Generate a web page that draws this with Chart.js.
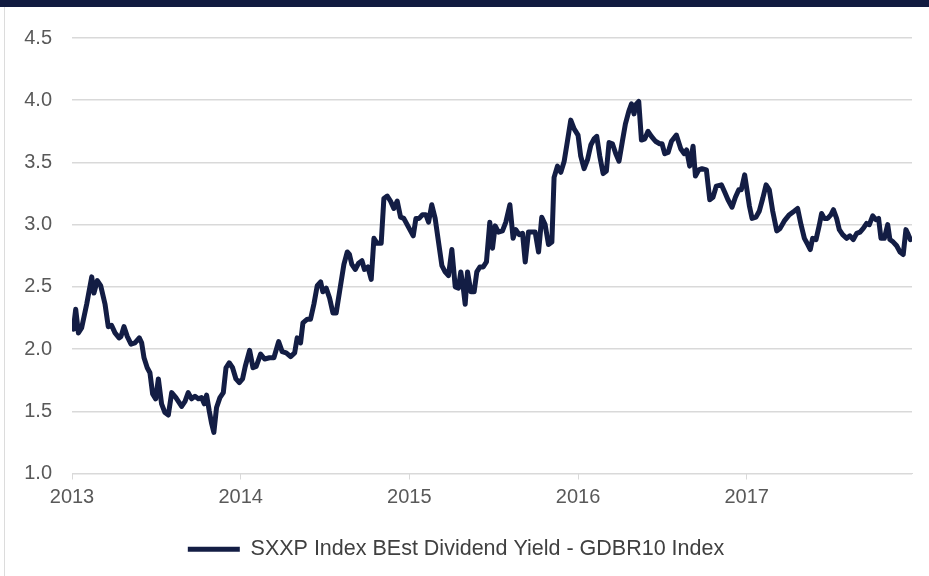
<!DOCTYPE html>
<html>
<head>
<meta charset="utf-8">
<script src="https://cdn.jsdelivr.net/npm/chart.js@4.4.1/dist/chart.umd.min.js"></script>
<style>
  html, body { margin: 0; padding: 0; background: #fff; }
  #wrap { position: relative; width: 929px; height: 576px; overflow: hidden; }
  #topbar { position: absolute; left: 0; top: 0; width: 929px; height: 7px; background: #111b40; }
  #leftline { position: absolute; left: 4px; top: 7px; width: 1px; height: 569px; background: #dcdcdc; }
  canvas { position: absolute; left: 0; top: 0; }
</style>
</head>
<body>
<div id="wrap">
  <canvas id="chart" width="929" height="576"></canvas>
  <div id="topbar"></div>
  <div id="leftline"></div>
</div>
<script>
// decimal years (weekly-ish readings) and the spread values
const dates = [
  2013.008, 2013.022, 2013.038, 2013.057, 2013.087, 2013.117, 2013.130, 2013.150, 2013.170, 2013.196,
  2013.215, 2013.235, 2013.255, 2013.279, 2013.290, 2013.308, 2013.328, 2013.350, 2013.373, 2013.399,
  2013.413, 2013.427, 2013.446, 2013.462, 2013.478, 2013.496, 2013.512, 2013.531, 2013.551, 2013.571,
  2013.591, 2013.616, 2013.650, 2013.670, 2013.689, 2013.709, 2013.729, 2013.749, 2013.768, 2013.784,
  2013.798, 2013.814, 2013.828, 2013.841, 2013.857, 2013.877, 2013.897, 2013.913, 2013.932, 2013.952,
  2013.972, 2013.992, 2014.011,
  2014.027, 2014.053, 2014.073, 2014.092, 2014.118, 2014.142, 2014.171, 2014.197, 2014.225, 2014.246,
  2014.270, 2014.296, 2014.320, 2014.335, 2014.355, 2014.369, 2014.395, 2014.414, 2014.434, 2014.454,
  2014.474, 2014.487, 2014.507, 2014.527, 2014.547, 2014.566, 2014.586, 2014.612, 2014.632, 2014.645,
  2014.659, 2014.679, 2014.699, 2014.719, 2014.734, 2014.754, 2014.774, 2014.790, 2014.809, 2014.833,
  2014.849, 2014.869, 2014.888, 2014.908, 2014.928, 2014.948, 2014.967,
  2014.999, 2015.023, 2015.039, 2015.058, 2015.078, 2015.098, 2015.114, 2015.133, 2015.153, 2015.173,
  2015.193, 2015.212, 2015.232, 2015.252, 2015.272, 2015.291, 2015.305, 2015.319, 2015.331, 2015.345,
  2015.365, 2015.384, 2015.400, 2015.418, 2015.438, 2015.457, 2015.477, 2015.493, 2015.509, 2015.528,
  2015.552, 2015.572, 2015.596, 2015.615, 2015.631, 2015.651, 2015.671, 2015.687, 2015.706, 2015.726,
  2015.746, 2015.766, 2015.785, 2015.805, 2015.825, 2015.845, 2015.858, 2015.878, 2015.898, 2015.918,
  2015.937, 2015.957, 2015.977,
  2016.000, 2016.016, 2016.036, 2016.056, 2016.076, 2016.095, 2016.111, 2016.129, 2016.149, 2016.168,
  2016.184, 2016.204, 2016.224, 2016.243, 2016.263, 2016.281, 2016.301, 2016.317, 2016.332, 2016.346,
  2016.360, 2016.376, 2016.396, 2016.415, 2016.435, 2016.459, 2016.484, 2016.498, 2016.514, 2016.534,
  2016.554, 2016.583, 2016.609, 2016.629, 2016.644, 2016.662, 2016.682, 2016.696, 2016.716, 2016.735,
  2016.761, 2016.781, 2016.800, 2016.820, 2016.850, 2016.870, 2016.889, 2016.913, 2016.933, 2016.953,
  2016.968, 2016.988,
  2017.016, 2017.032, 2017.055, 2017.075, 2017.095, 2017.115, 2017.134, 2017.154, 2017.178, 2017.198,
  2017.223, 2017.253, 2017.283, 2017.302, 2017.322, 2017.342, 2017.362, 2017.377, 2017.391, 2017.411,
  2017.431, 2017.444, 2017.460, 2017.480, 2017.500, 2017.514, 2017.533, 2017.549, 2017.569, 2017.593,
  2017.612, 2017.632, 2017.652, 2017.672, 2017.691, 2017.711, 2017.727, 2017.747, 2017.766, 2017.782,
  2017.796, 2017.816, 2017.836, 2017.849, 2017.869, 2017.889, 2017.909, 2017.928, 2017.944, 2017.958,
  2017.970
];
const spread = [
  2.16, 2.32, 2.13, 2.17, 2.36, 2.58, 2.45, 2.55, 2.51, 2.36,
  2.18, 2.19, 2.13, 2.09, 2.10, 2.18, 2.10, 2.04, 2.05, 2.09,
  2.05, 1.93, 1.85, 1.81, 1.64, 1.60, 1.76, 1.56, 1.49, 1.47,
  1.65, 1.61, 1.54, 1.58, 1.65, 1.60, 1.62, 1.60, 1.61, 1.56,
  1.63, 1.50, 1.40, 1.33, 1.53, 1.61, 1.65, 1.85, 1.89, 1.85,
  1.76, 1.73, 1.76,
  1.86, 1.99, 1.85, 1.86, 1.96, 1.92, 1.93, 1.93, 2.06, 1.98,
  1.97, 1.94, 1.97, 2.09, 2.05, 2.21, 2.24, 2.24, 2.36, 2.51,
  2.54, 2.46, 2.49, 2.41, 2.29, 2.29, 2.46, 2.68, 2.78, 2.76,
  2.68, 2.64, 2.69, 2.71, 2.64, 2.66, 2.56, 2.89, 2.85, 2.85,
  3.21, 3.23, 3.19, 3.13, 3.19, 3.06, 3.05,
  2.97, 2.91, 3.05, 3.05, 3.08, 3.08, 3.02, 3.16, 3.05, 2.86,
  2.67, 2.62, 2.59, 2.80, 2.50, 2.49, 2.62, 2.50, 2.36, 2.62,
  2.46, 2.46, 2.62, 2.66, 2.66, 2.70, 3.02, 2.81, 2.99, 2.94,
  2.95, 3.02, 3.16, 2.89, 2.96, 2.92, 2.93, 2.70, 2.94, 2.94,
  2.94, 2.78, 3.06, 3.00, 2.84, 2.86, 3.38, 3.47, 3.42, 3.51,
  3.67, 3.84, 3.77,
  3.72, 3.55, 3.45, 3.52, 3.64, 3.69, 3.71, 3.55, 3.41, 3.43,
  3.66, 3.65, 3.57, 3.51, 3.67, 3.81, 3.91, 3.97, 3.89, 3.97,
  3.99, 3.68, 3.69, 3.75, 3.71, 3.67, 3.65, 3.65, 3.57, 3.58,
  3.67, 3.72, 3.61, 3.57, 3.60, 3.47, 3.63, 3.39, 3.44, 3.45,
  3.44, 3.20, 3.22, 3.31, 3.32, 3.26, 3.20, 3.14, 3.22, 3.28,
  3.28, 3.40,
  3.15, 3.05, 3.06, 3.11, 3.21, 3.32, 3.28, 3.11, 2.95, 2.97,
  3.03, 3.08, 3.11, 3.13, 3.00, 2.89, 2.84, 2.80, 2.89, 2.88,
  3.00, 3.09, 3.05, 3.05, 3.08, 3.12, 3.05, 2.96, 2.92, 2.89,
  2.91, 2.88, 2.93, 2.94, 2.97, 3.01, 3.00, 3.07, 3.04, 3.05,
  2.89, 2.89, 3.00, 2.88, 2.86, 2.83, 2.78, 2.76, 2.96, 2.92,
  2.88
];
const seriesName = 'SXXP Index BEst Dividend Yield - GDBR10 Index';
const yTicks = [1.0, 1.5, 2.0, 2.5, 3.0, 3.5, 4.0, 4.5];
const xStart = 2013;
const xEnd = 2017.98;

const navy = '#131d44';
const gridGray = '#d9d9d9';
const labelGray = '#595959';
const fontFam = "'Liberation Sans', Arial, sans-serif";

const points = dates.map((d, i) => ({ x: d, y: spread[i] }));

new Chart(document.getElementById('chart'), {
  type: 'line',
  data: {
    datasets: [{
      label: seriesName,
      data: points,
      borderColor: navy,
      backgroundColor: navy,
      borderWidth: 5,
      pointRadius: 0,
      tension: 0,
      borderJoinStyle: 'round',
      borderCapStyle: 'round',
      pointStyle: 'line'
    }]
  },
  options: {
    responsive: false,
    animation: false,
    layout: { padding: { top: 38, right: 17, left: 0, bottom: 6 } },
    plugins: {
      tooltip: { enabled: false },
      legend: {
        position: 'bottom',
        labels: {
          usePointStyle: true,
          pointStyleWidth: 52,
          color: '#404040',
          font: { family: fontFam, size: 21.5 },
          padding: 10
        }
      }
    },
    scales: {
      x: {
        type: 'linear',
        min: xStart,
        max: xEnd,
        afterFit: s => { s.height = 55; },
        grid: { drawOnChartArea: false, drawTicks: true, tickLength: 6, color: gridGray },
        border: { display: true, color: gridGray, width: 1 },
        ticks: {
          stepSize: 1,
          includeBounds: false,
          padding: 6,
          maxRotation: 0,
          color: labelGray,
          font: { family: fontFam, size: 20 },
          callback: v => String(Math.round(v))
        }
      },
      y: {
        min: yTicks[0],
        max: yTicks[yTicks.length - 1],
        afterFit: s => { s.width = 72; },
        afterBuildTicks: s => { s.ticks = yTicks.map(v => ({ value: v })); },
        grid: { drawTicks: false, color: gridGray, lineWidth: 1.5 },
        border: { display: false },
        ticks: {
          padding: 20,
          color: labelGray,
          font: { family: fontFam, size: 20 },
          callback: v => v.toFixed(1)
        }
      }
    }
  }
});
</script>
</body>
</html>
